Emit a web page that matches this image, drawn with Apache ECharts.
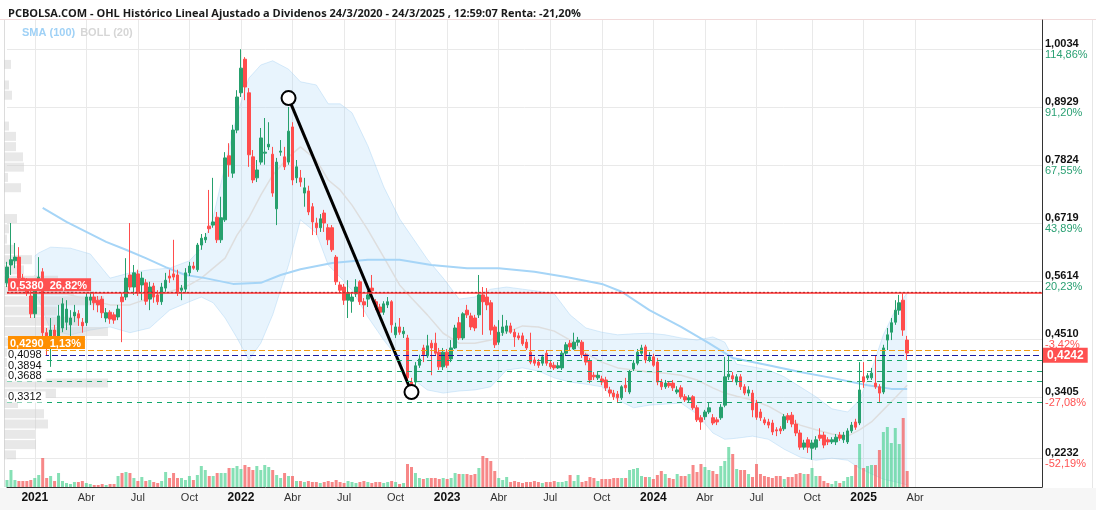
<!DOCTYPE html>
<html>
<head>
<meta charset="utf-8">
<script src="https://cdn.jsdelivr.net/npm/echarts/dist/echarts.min.js"></script>
<style>
  html, body { margin: 0; padding: 0; background: #fff; }
  #chart { width: 1096px; height: 512px; }
</style>
</head>
<body>
<div id="chart"></div>
<script>
// velas semanales desde la semana del 16/11/2020
const firstWeek = "2020-11-16";
const totalWeeks = 262;
const lastLabelWeek = 230;

const opens = [
  0.558, 0.592, 0.600, 0.607, 0.567, 0.560, 0.533, 0.499, 0.558, 0.579,
  0.463, 0.453, 0.468, 0.449, 0.472, 0.483, 0.478, 0.495, 0.499, 0.483,
  0.482, 0.525, 0.531, 0.525, 0.527, 0.491, 0.502, 0.497, 0.493, 0.531,
  0.531, 0.573, 0.550, 0.575, 0.554, 0.558, 0.527, 0.552, 0.535, 0.522,
  0.548, 0.571, 0.575, 0.573, 0.544, 0.546, 0.577, 0.590, 0.583, 0.630,
  0.640, 0.666, 0.668, 0.683, 0.640, 0.678, 0.800, 0.767, 0.849, 0.920,
  0.984, 0.920, 0.798, 0.758, 0.788, 0.805, 0.817, 0.803, 0.699, 0.807,
  0.798, 0.788, 0.855, 0.758, 0.758, 0.729, 0.733, 0.703, 0.672, 0.663,
  0.691, 0.663, 0.663, 0.607, 0.554, 0.550, 0.525, 0.523, 0.537, 0.560,
  0.522, 0.527, 0.548, 0.522, 0.512, 0.502, 0.516, 0.522, 0.459, 0.474,
  0.461, 0.453, 0.369, 0.369, 0.401, 0.434, 0.419, 0.443, 0.443, 0.426,
  0.398, 0.426, 0.413, 0.434, 0.482, 0.453, 0.506, 0.495, 0.491, 0.497,
  0.535, 0.531, 0.520, 0.474, 0.445, 0.463, 0.466, 0.476, 0.464, 0.457,
  0.457, 0.445, 0.426, 0.411, 0.407, 0.405, 0.424, 0.405, 0.401, 0.396,
  0.396, 0.424, 0.443, 0.432, 0.445, 0.445, 0.421, 0.409, 0.382, 0.377,
  0.375, 0.373, 0.354, 0.348, 0.346, 0.339, 0.363, 0.350, 0.394, 0.405,
  0.424, 0.436, 0.411, 0.417, 0.407, 0.369, 0.360, 0.367, 0.367, 0.350,
  0.358, 0.341, 0.335, 0.341, 0.320, 0.301, 0.303, 0.312, 0.301, 0.297,
  0.301, 0.325, 0.379, 0.381, 0.369, 0.379, 0.360, 0.348, 0.348, 0.329,
  0.312, 0.297, 0.293, 0.291, 0.278, 0.280, 0.280, 0.305, 0.306, 0.289,
  0.272, 0.245, 0.259, 0.243, 0.245, 0.268, 0.268, 0.259, 0.255, 0.255,
  0.268, 0.259, 0.255, 0.276, 0.293, 0.291, 0.379, 0.377, 0.377, 0.367,
  0.360, 0.350, 0.449, 0.464, 0.483, 0.506, 0.525, 0.449
];
const closes = [
  0.588, 0.602, 0.607, 0.567, 0.563, 0.539, 0.499, 0.552, 0.569, 0.463,
  0.447, 0.468, 0.445, 0.495, 0.518, 0.508, 0.491, 0.502, 0.491, 0.476,
  0.531, 0.531, 0.520, 0.516, 0.501, 0.501, 0.489, 0.487, 0.508, 0.522,
  0.567, 0.550, 0.577, 0.541, 0.567, 0.523, 0.550, 0.531, 0.522, 0.550,
  0.563, 0.567, 0.569, 0.541, 0.548, 0.577, 0.590, 0.586, 0.630, 0.643,
  0.645, 0.661, 0.674, 0.640, 0.682, 0.796, 0.783, 0.849, 0.912, 0.967,
  0.931, 0.802, 0.754, 0.773, 0.834, 0.807, 0.822, 0.729, 0.788, 0.809,
  0.779, 0.847, 0.754, 0.779, 0.750, 0.739, 0.693, 0.674, 0.663, 0.680,
  0.672, 0.640, 0.621, 0.560, 0.544, 0.525, 0.539, 0.531, 0.550, 0.522,
  0.516, 0.535, 0.543, 0.512, 0.502, 0.518, 0.522, 0.478, 0.474, 0.464,
  0.466, 0.377, 0.360, 0.400, 0.413, 0.421, 0.438, 0.434, 0.424, 0.398,
  0.426, 0.401, 0.434, 0.472, 0.453, 0.499, 0.497, 0.474, 0.472, 0.535,
  0.522, 0.516, 0.468, 0.440, 0.464, 0.474, 0.476, 0.464, 0.455, 0.453,
  0.442, 0.434, 0.407, 0.405, 0.401, 0.417, 0.405, 0.398, 0.396, 0.400,
  0.424, 0.440, 0.436, 0.445, 0.449, 0.421, 0.407, 0.373, 0.379, 0.382,
  0.369, 0.358, 0.348, 0.341, 0.339, 0.360, 0.358, 0.388, 0.405, 0.426,
  0.434, 0.411, 0.417, 0.401, 0.369, 0.360, 0.367, 0.362, 0.358, 0.354,
  0.341, 0.335, 0.339, 0.320, 0.297, 0.293, 0.312, 0.320, 0.291, 0.293,
  0.321, 0.379, 0.384, 0.375, 0.379, 0.360, 0.348, 0.354, 0.316, 0.302,
  0.301, 0.291, 0.287, 0.274, 0.276, 0.276, 0.303, 0.297, 0.289, 0.272,
  0.245, 0.253, 0.245, 0.253, 0.259, 0.262, 0.249, 0.255, 0.259, 0.264,
  0.262, 0.268, 0.276, 0.287, 0.283, 0.354, 0.369, 0.381, 0.386, 0.360,
  0.348, 0.434, 0.459, 0.482, 0.506, 0.520, 0.468, 0.4242
];
const lows = [
  0.550, 0.573, 0.586, 0.562, 0.556, 0.533, 0.491, 0.491, 0.544, 0.453,
  0.419, 0.398, 0.434, 0.440, 0.464, 0.468, 0.453, 0.483, 0.476, 0.463,
  0.476, 0.516, 0.506, 0.502, 0.491, 0.483, 0.480, 0.480, 0.487, 0.445,
  0.525, 0.544, 0.535, 0.533, 0.525, 0.516, 0.506, 0.520, 0.516, 0.516,
  0.541, 0.558, 0.563, 0.533, 0.525, 0.539, 0.571, 0.583, 0.579, 0.621,
  0.634, 0.653, 0.663, 0.634, 0.634, 0.674, 0.760, 0.758, 0.843, 0.912,
  0.906, 0.779, 0.748, 0.750, 0.783, 0.783, 0.811, 0.722, 0.668, 0.800,
  0.773, 0.783, 0.744, 0.748, 0.741, 0.703, 0.687, 0.649, 0.649, 0.655,
  0.655, 0.630, 0.617, 0.554, 0.539, 0.516, 0.491, 0.501, 0.531, 0.516,
  0.493, 0.512, 0.539, 0.506, 0.497, 0.497, 0.510, 0.463, 0.453, 0.459,
  0.453, 0.371, 0.352, 0.363, 0.396, 0.407, 0.415, 0.382, 0.419, 0.392,
  0.392, 0.396, 0.407, 0.432, 0.449, 0.449, 0.491, 0.468, 0.466, 0.491,
  0.459, 0.506, 0.459, 0.434, 0.440, 0.457, 0.461, 0.461, 0.436, 0.449,
  0.438, 0.430, 0.403, 0.400, 0.396, 0.400, 0.400, 0.394, 0.392, 0.394,
  0.392, 0.419, 0.430, 0.430, 0.438, 0.415, 0.401, 0.367, 0.373, 0.373,
  0.363, 0.352, 0.341, 0.335, 0.329, 0.335, 0.350, 0.346, 0.390, 0.401,
  0.419, 0.405, 0.407, 0.398, 0.363, 0.354, 0.356, 0.358, 0.352, 0.346,
  0.337, 0.331, 0.331, 0.316, 0.293, 0.278, 0.297, 0.308, 0.287, 0.287,
  0.297, 0.321, 0.373, 0.369, 0.363, 0.354, 0.344, 0.342, 0.302, 0.297,
  0.295, 0.287, 0.281, 0.268, 0.266, 0.270, 0.276, 0.291, 0.283, 0.266,
  0.240, 0.240, 0.234, 0.221, 0.240, 0.257, 0.243, 0.249, 0.251, 0.249,
  0.257, 0.253, 0.251, 0.272, 0.278, 0.287, 0.358, 0.373, 0.373, 0.356,
  0.329, 0.346, 0.430, 0.449, 0.478, 0.497, 0.457, 0.411
];
const highs = [
  0.598, 0.672, 0.634, 0.626, 0.575, 0.567, 0.544, 0.558, 0.607, 0.586,
  0.472, 0.491, 0.478, 0.516, 0.529, 0.525, 0.506, 0.516, 0.506, 0.491,
  0.539, 0.541, 0.541, 0.533, 0.533, 0.510, 0.506, 0.502, 0.516, 0.539,
  0.605, 0.672, 0.592, 0.583, 0.579, 0.565, 0.560, 0.558, 0.544, 0.558,
  0.577, 0.583, 0.640, 0.583, 0.554, 0.586, 0.598, 0.598, 0.634, 0.651,
  0.653, 0.735, 0.758, 0.693, 0.722, 0.807, 0.824, 0.859, 0.925, 1.003,
  0.988, 0.929, 0.811, 0.792, 0.853, 0.872, 0.864, 0.817, 0.796, 0.830,
  0.817, 0.893, 0.864, 0.792, 0.773, 0.758, 0.743, 0.710, 0.682, 0.689,
  0.697, 0.670, 0.668, 0.611, 0.560, 0.556, 0.563, 0.539, 0.565, 0.563,
  0.529, 0.543, 0.573, 0.527, 0.518, 0.523, 0.531, 0.525, 0.482, 0.491,
  0.474, 0.459, 0.377, 0.407, 0.421, 0.440, 0.459, 0.449, 0.463, 0.434,
  0.434, 0.432, 0.449, 0.478, 0.493, 0.502, 0.516, 0.501, 0.497, 0.573,
  0.550, 0.548, 0.525, 0.478, 0.487, 0.497, 0.487, 0.482, 0.470, 0.463,
  0.463, 0.451, 0.463, 0.417, 0.413, 0.421, 0.430, 0.411, 0.407, 0.407,
  0.430, 0.445, 0.449, 0.463, 0.455, 0.449, 0.424, 0.415, 0.388, 0.388,
  0.381, 0.379, 0.360, 0.354, 0.352, 0.363, 0.377, 0.392, 0.411, 0.432,
  0.440, 0.440, 0.426, 0.423, 0.415, 0.375, 0.373, 0.371, 0.373, 0.361,
  0.363, 0.346, 0.344, 0.344, 0.325, 0.306, 0.316, 0.329, 0.308, 0.302,
  0.327, 0.417, 0.419, 0.388, 0.384, 0.384, 0.365, 0.361, 0.354, 0.335,
  0.318, 0.302, 0.299, 0.297, 0.283, 0.285, 0.308, 0.310, 0.312, 0.297,
  0.278, 0.259, 0.264, 0.259, 0.266, 0.281, 0.274, 0.264, 0.264, 0.270,
  0.274, 0.274, 0.281, 0.293, 0.299, 0.407, 0.407, 0.386, 0.396, 0.419,
  0.365, 0.440, 0.472, 0.491, 0.525, 0.535, 0.538, 0.457
];
const volumes = [
  7, 17, 7, 6, 6, 6, 7, 9, 12, 29,
  9, 11, 6, 14, 6, 4, 3, 5, 5, 6,
  4, 3, 2, 2, 3, 2, 3, 3, 11, 14,
  15, 14, 9, 6, 10, 6, 7, 5, 4, 6,
  15, 9, 14, 9, 9, 7, 11, 7, 12, 21,
  17, 11, 11, 14, 14, 14, 19, 19, 21, 18,
  22, 20, 17, 21, 17, 22, 20, 17, 12, 9,
  14, 11, 11, 6, 6, 5, 6, 5, 5, 4,
  5, 6, 5, 7, 5, 4, 6, 5, 4, 5,
  6, 5, 4, 5, 5, 4, 5, 6, 5, 3,
  4, 23, 20, 14, 9, 8, 9, 9, 9, 8,
  9, 8, 9, 14, 13, 13, 13, 12, 13, 19,
  31, 29, 26, 16, 9, 7, 10, 5, 6, 5,
  4, 5, 5, 6, 5, 4, 5, 5, 6, 5,
  5, 6, 12, 6, 12, 5, 6, 10, 9, 6,
  8, 8, 8, 9, 9, 9, 9, 17, 18, 19,
  11, 10, 10, 8, 12, 16, 13, 9, 8, 13,
  11, 11, 13, 22, 15, 23, 20, 17, 16, 13,
  21, 26, 40, 33, 18, 17, 17, 13, 10, 23,
  13, 11, 10, 9, 11, 11, 8, 10, 10, 13,
  14, 13, 13, 19, 11, 11, 6, 4, 3, 6,
  4, 6, 10, 11, 22, 43, 19, 21, 22, 22,
  37, 55, 60, 44, 59, 43, 69, 16
];

// SMA (100) (semana, valor)
const smaWeek = [9, 15, 20, 25, 30, 35, 40, 45, 50, 57, 64, 69, 74, 82, 91, 99, 107, 116, 124, 133, 141, 150, 155, 162, 170, 177, 183, 192, 200, 208, 217, 223, 227];
const smaVal = [0.701, 0.674, 0.655, 0.636, 0.621, 0.605, 0.588, 0.573, 0.567, 0.556, 0.558, 0.573, 0.584, 0.596, 0.602, 0.602, 0.592, 0.586, 0.586, 0.579, 0.569, 0.556, 0.541, 0.506, 0.474, 0.443, 0.415, 0.401, 0.388, 0.377, 0.363, 0.356, 0.356];

// BOLL (20)
const bollWeek = [7, 8, 11, 16, 21, 26, 31, 36, 41, 46, 49, 52, 55, 58, 61, 64, 67, 71, 74, 78, 81, 84, 87, 91, 95, 99, 102, 106, 110, 114, 118, 122, 126, 130, 134, 138, 142, 146, 150, 154, 158, 162, 166, 170, 174, 178, 181, 184, 188, 192, 196, 200, 204, 208, 212, 215, 218, 221, 224, 227];
const bollUpper = [0.609, 0.615, 0.626, 0.624, 0.613, 0.567, 0.577, 0.583, 0.586, 0.600, 0.624, 0.683, 0.782, 0.878, 0.948, 0.973, 0.981, 0.965, 0.941, 0.935, 0.899, 0.899, 0.882, 0.819, 0.741, 0.680, 0.647, 0.603, 0.567, 0.527, 0.531, 0.546, 0.550, 0.546, 0.542, 0.537, 0.497, 0.472, 0.464, 0.459, 0.461, 0.462, 0.459, 0.453, 0.449, 0.455, 0.445, 0.403, 0.398, 0.392, 0.379, 0.360, 0.341, 0.318, 0.312, 0.335, 0.392, 0.459, 0.506, 0.539];
const bollMid = [0.573, 0.563, 0.544, 0.535, 0.525, 0.516, 0.516, 0.529, 0.541, 0.554, 0.567, 0.586, 0.605, 0.649, 0.682, 0.725, 0.763, 0.798, 0.817, 0.792, 0.754, 0.735, 0.706, 0.659, 0.607, 0.554, 0.529, 0.497, 0.462, 0.443, 0.443, 0.449, 0.464, 0.476, 0.474, 0.466, 0.449, 0.424, 0.407, 0.396, 0.392, 0.388, 0.386, 0.382, 0.373, 0.358, 0.348, 0.342, 0.335, 0.323, 0.306, 0.287, 0.278, 0.270, 0.266, 0.278, 0.293, 0.316, 0.339, 0.363];
const bollLower = [0.544, 0.525, 0.468, 0.459, 0.468, 0.474, 0.463, 0.472, 0.506, 0.522, 0.531, 0.520, 0.491, 0.453, 0.411, 0.443, 0.497, 0.592, 0.678, 0.653, 0.592, 0.569, 0.544, 0.493, 0.449, 0.411, 0.377, 0.354, 0.348, 0.352, 0.354, 0.360, 0.392, 0.396, 0.390, 0.377, 0.369, 0.365, 0.360, 0.335, 0.320, 0.325, 0.327, 0.329, 0.308, 0.272, 0.260, 0.262, 0.266, 0.260, 0.241, 0.226, 0.220, 0.224, 0.220, 0.205, 0.194, 0.184, 0.179, 0.173];

// línea de tendencia dibujada
const trendWeek = [71, 102];
const trendVal = [0.910, 0.350];

// niveles horizontales
const resistLevel = 0.5380, resistLabel = "0,5380  26,82%";
const dottedLevel = 0.5405;
const refLevel = 0.4290, refLabel = "0,4290  1,13%";
const lastLevel = 0.4242, lastLabel = "0,4242";
const supportLevels = [0.4098, 0.3894, 0.3688, 0.3312];
const supportLabels = ["0,4098", "0,3894", "0,3688", "0,3312"];

// eje derecho
const priceTicks = [1.0034, 0.8929, 0.7824, 0.6719, 0.5614, 0.4510, 0.3405, 0.2232];
const priceTickLabels = ["1,0034", "0,8929", "0,7824", "0,6719", "0,5614", "0,4510", "0,3405", "0,2232"];
const pctTickLabels = ["114,86%", "91,20%", "67,55%", "43,89%", "20,23%", "-3,42%", "-27,08%", "-52,19%"];

// perfil de volumen por precio (40 tramos de arriba abajo)
const profileVol = [0, 7, 0, 5, 8, 0, 0, 5, 12, 12, 19, 20, 4, 17, 0, 0, 13, 5, 3, 10, 28, 20, 54, 70, 100, 53, 75, 104, 60, 30, 40, 35, 104, 52, 14, 40, 44, 31, 32, 12];

const monthNames = ["Ene", "Feb", "Mar", "Abr", "May", "Jun", "Jul", "Ago", "Sep", "Oct", "Nov", "Dic"];
const UP = "#26a06d", DOWN = "#ff4d4d";

const weeks = [];
const t0 = new Date(firstWeek + "T00:00:00Z").getTime();
for (let i = 0; i < totalWeeks; i++) {
  weeks.push(new Date(t0 + i * 7 * 864e5).toISOString().slice(0, 10));
}
const isQuarterStart = (i) => {
  if (i === 0 || i > lastLabelWeek) return false;
  const m = +weeks[i].slice(5, 7) - 1;
  if (m % 3 !== 0) return false;
  return +weeks[i - 1].slice(5, 7) - 1 !== m;
};

const candleData = opens.map((o, i) => [o, closes[i], lows[i], highs[i]]);
const volData = volumes.map((v, i) => ({
  value: v,
  itemStyle: { color: closes[i] >= opens[i] ? "rgba(60,205,135,0.62)" : "rgba(244,90,90,0.72)" }
}));

const pairs = (ws, vs) => ws.map((w, i) => [w, vs[i]]);
const bollBase = pairs(bollWeek, bollLower);
const bollSpan = bollWeek.map((w, i) => [w, +(bollUpper[i] - bollLower[i]).toFixed(4)]);

const boxLabel = (text, bg) => ({
  show: true, position: "insideStartTop", formatter: text, distance: 1,
  color: "#fff", fontWeight: "bold", fontSize: 11, backgroundColor: bg, padding: [2, 4, 0, 2]
});

// primero los soportes, después las cajas de color para que queden encima
const levelLines = supportLevels.map((lv, i) => ({
  yAxis: lv,
  lineStyle: { color: "#14a86c", type: [5, 5], width: 1 },
  label: {
    show: true, position: "insideStartTop", formatter: supportLabels[i], distance: 0,
    color: "#111", fontSize: 11, backgroundColor: "#fff", padding: [0, 4, 0, 1]
  }
})).concat([
  { yAxis: dottedLevel, lineStyle: { color: "#111", type: [2, 2], width: 1.2 }, label: { show: false } },
  { yAxis: resistLevel, lineStyle: { color: "#ff3333", type: "solid", width: 1.5 }, label: boxLabel(resistLabel, "#ff5050") },
  { yAxis: refLevel, lineStyle: { color: "#f39c12", type: [6, 3], width: 1.2 }, label: boxLabel(refLabel, "#ff8f00") },
  {
    yAxis: lastLevel, lineStyle: { color: "#1a1aa0", type: [6, 3], width: 1.2 },
    label: {
      show: true, position: "end", formatter: lastLabel, distance: 1,
      color: "#fff", fontWeight: "bold", fontSize: 12, backgroundColor: "#ff5050", padding: [2, 4, 1, 4]
    }
  }
]);

const chart = echarts.init(document.getElementById("chart"), null, { renderer: "canvas" });

chart.setOption({
  animation: false,
  backgroundColor: "#fff",
  textStyle: { fontFamily: "Liberation Sans, Arial, sans-serif" },
  title: {
    text: "PCBOLSA.COM - OHL Histórico Lineal Ajustado a Dividenos 24/3/2020 - 24/3/2025 , 12:59:07 Renta: -21,20%",
    left: 3, top: 3,
    textStyle: { fontFamily: "Open Sans", fontSize: 11, fontWeight: "bold", color: "#1a1a1a" }
  },
  legend: {
    left: 12, top: 22, icon: "none", itemWidth: 0, itemHeight: 0, itemGap: 0,
    selectedMode: false,
    textStyle: { fontSize: 11, fontWeight: "bold", fontFamily: "Liberation Sans, Arial" },
    data: [
      { name: "SMA (100)", textStyle: { color: "#9fd1f6" } },
      { name: "BOLL (20)", textStyle: { color: "#d6d6d6" } }
    ]
  },
  graphic: [
    { type: "rect", z: -1, shape: { x: 0, y: 488, width: 1096, height: 22 }, style: { fill: "#f6f6f6" } },
    { type: "line", shape: { x1: 0, y1: 19.5, x2: 1096, y2: 19.5 }, style: { stroke: "#f1dada", lineWidth: 1 } },
    { type: "line", shape: { x1: 4.5, y1: 20, x2: 4.5, y2: 487 }, style: { stroke: "#dcdcdc", lineWidth: 1 } },
    { type: "line", shape: { x1: 1092.5, y1: 20, x2: 1092.5, y2: 488 }, style: { stroke: "#e6e6e6", lineWidth: 1 } }
  ],
  grid: [
    { left: 7, right: 54, top: 20, bottom: 25, outerBoundsMode: "none" },
    { left: 7, right: 54, bottom: 25, height: 100, outerBoundsMode: "none" },
    { left: 4, top: 49, height: 411, width: 300, outerBoundsMode: "none" }
  ],
  xAxis: [
    {
      type: "category", gridIndex: 0, data: weeks, boundaryGap: false,
      axisLine: { lineStyle: { color: "#333", width: 1 } },
      axisTick: { show: false },
      axisLabel: {
        interval: (i) => isQuarterStart(i),
        margin: 5,
        formatter: (v) => {
          const m = +v.slice(5, 7) - 1;
          return m === 0 ? "{y|" + v.slice(0, 4) + "}" : "{m|" + monthNames[m] + "}";
        },
        rich: {
          y: { fontSize: 12, fontWeight: "bold", color: "#111", fontFamily: "Liberation Sans, Arial" },
          m: { fontSize: 11, color: "#333", fontFamily: "Liberation Sans, Arial" }
        }
      },
      splitLine: { show: true, interval: (i) => isQuarterStart(i), lineStyle: { color: "#e9e9e9", width: 1 } }
    },
    { type: "category", gridIndex: 1, data: weeks, boundaryGap: false, show: false },
    { type: "value", gridIndex: 2, min: 0, max: 300, show: false }
  ],
  yAxis: [
    {
      type: "value", gridIndex: 0, position: "right", min: 0.1691, max: 1.0587, scale: true,
      axisLine: { show: true, lineStyle: { color: "#333" } },
      axisTick: { show: false, customValues: priceTicks },
      axisLabel: {
        customValues: priceTicks,
        margin: 3,
        formatter: (v) => {
          let k = 0;
          priceTicks.forEach((p, i) => { if (Math.abs(p - v) < Math.abs(priceTicks[k] - v)) k = i; });
          const neg = pctTickLabels[k].charAt(0) === "-";
          return "{p|" + priceTickLabels[k] + "}\n{" + (neg ? "d" : "u") + "|" + pctTickLabels[k] + "}";
        },
        rich: {
          p: { fontSize: 11, color: "#111", fontWeight: 600, lineHeight: 11 },
          u: { fontSize: 11, color: "#2aa073", lineHeight: 11 },
          d: { fontSize: 11, color: "#ff5252", lineHeight: 11 }
        }
      },
      splitLine: { show: true, lineStyle: { color: "#e9e9e9" } }
    },
    { type: "value", gridIndex: 1, min: 0, max: 100, show: false },
    { type: "category", gridIndex: 2, inverse: true, data: profileVol.map((_, i) => i), show: false }
  ],
  series: [
    {
      name: "bollBase", type: "line", stack: "boll", data: bollBase, symbol: "none", silent: true,
      lineStyle: { color: "rgba(150,200,240,0.35)", width: 1 }, z: 1
    },
    {
      name: "bollSpan", type: "line", stack: "boll", data: bollSpan, symbol: "none", silent: true,
      lineStyle: { color: "rgba(150,200,240,0.35)", width: 1 },
      areaStyle: { color: "rgba(160,210,245,0.35)" }, z: 1
    },
    {
      name: "profile", type: "bar", xAxisIndex: 2, yAxisIndex: 2, data: profileVol,
      barWidth: 9, itemStyle: { color: "rgba(205,205,205,0.45)" }, silent: true, z: 2
    },
    {
      name: "BOLL (20)", type: "line", data: pairs(bollWeek, bollMid), symbol: "none", silent: true,
      lineStyle: { color: "#dedede", width: 1.5 }, itemStyle: { color: "#d6d6d6" }, z: 3
    },
    {
      name: "SMA (100)", type: "line", data: pairs(smaWeek, smaVal), symbol: "none", silent: true,
      lineStyle: { color: "#a6d5f7", width: 2 }, itemStyle: { color: "#9fd1f6" }, z: 3
    },
    {
      name: "volumen", type: "bar", xAxisIndex: 1, yAxisIndex: 1, data: volData,
      barWidth: 3, silent: true, z: 2
    },
    {
      name: "OHL", type: "candlestick", data: candleData, barWidth: 3, z: 5,
      itemStyle: { color: UP, borderColor: UP, color0: DOWN, borderColor0: DOWN, borderWidth: 1 }
    },
    {
      name: "niveles", type: "line", data: [], z: 8, silent: true,
      markLine: { symbol: ["none", "none"], silent: true, animation: false, z: 12, data: levelLines }
    },
    {
      name: "tendencia", type: "line", data: pairs(trendWeek, trendVal), z: 10, silent: true,
      symbol: "emptyCircle", symbolSize: 14, showSymbol: true, showAllSymbol: true,
      lineStyle: { color: "#000", width: 3 },
      itemStyle: { color: "#000", borderColor: "#000", borderWidth: 2.5 }
    }
  ]
});
</script>
</body>
</html>
